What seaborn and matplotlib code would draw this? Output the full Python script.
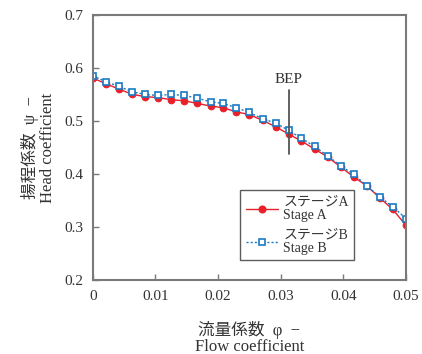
import matplotlib
matplotlib.use('Agg')
import matplotlib.pyplot as plt
from matplotlib.lines import Line2D
import pandas as pd
import seaborn as sns

# flow coefficient phi (measurement points)
phi = [0.0, 0.0021, 0.0042, 0.0063, 0.0083, 0.0104, 0.0125, 0.0146, 0.0167,
       0.0188, 0.0208, 0.0229, 0.0250, 0.0271, 0.0292, 0.0313, 0.0333, 0.0354,
       0.0375, 0.0396, 0.0417, 0.0438, 0.0458, 0.0479, 0.0500]

# head coefficient psi
psi_a = [0.581, 0.570, 0.560, 0.550, 0.546, 0.544, 0.540, 0.538, 0.533,
         0.528, 0.525, 0.517, 0.512, 0.501, 0.489, 0.475, 0.462, 0.447,
         0.432, 0.413, 0.394, 0.377, 0.355, 0.333, 0.303]
psi_b = [0.585, 0.574, 0.565, 0.555, 0.550, 0.548, 0.550, 0.548, 0.543,
         0.536, 0.533, 0.525, 0.516, 0.504, 0.496, 0.482, 0.467, 0.452,
         0.434, 0.415, 0.399, 0.377, 0.357, 0.338, 0.316]

bep_phi = 0.0313
bep_range = (0.438, 0.558)

RED = '#e8202a'
BLUE = '#1a7ac4'
GRAY = '#7a7a7a'
TXT = '#333333'

sns.set_theme(style='ticks')
plt.rcParams['font.family'] = ['Liberation Serif', 'Noto Sans CJK JP']

df = pd.DataFrame({'phi': phi, 'A': psi_a, 'B': psi_b})

fig = plt.figure(figsize=(4.22, 3.54), dpi=100)
ax = fig.add_axes([0.220, 0.209, 0.742, 0.749])

style_a = dict(color=RED, linewidth=1.0, marker='o', markersize=4.8,
               markeredgecolor=RED)
style_b = dict(color=BLUE, linewidth=1.0, linestyle=(0, (1.5, 1.5)),
               marker='s', markersize=4.6, markerfacecolor='white',
               markeredgecolor=BLUE, markeredgewidth=1.2)

sns.lineplot(data=df, x='phi', y='A', ax=ax, legend=False, **style_a)
sns.lineplot(data=df, x='phi', y='B', ax=ax, legend=False, **style_b)

# BEP marker
ax.plot([bep_phi, bep_phi], bep_range, color='#555555', linewidth=1.3)
ax.text(bep_phi, 0.578, 'BEP', ha='center', va='center', fontsize=11,
        color=TXT)

ax.set_xlim(0, 0.05)
ax.set_ylim(0.2, 0.7)
ax.set_xticks([0, 0.01, 0.02, 0.03, 0.04, 0.05])
ax.set_xticklabels(['0', '0.01', '0.02', '0.03', '0.04', '0.05'])
ax.set_yticks([0.2, 0.3, 0.4, 0.5, 0.6, 0.7])
ax.tick_params(direction='in', length=4, width=1.0, color=GRAY,
               labelsize=11, labelcolor=TXT, pad=7)
for sp in ax.spines.values():
    sp.set_color(GRAY)
    sp.set_linewidth(1.5)
    sp.set_visible(True)

ax.set_xlabel('流量係数  φ  −\nFlow coefficient', fontsize=12,
              color=TXT, linespacing=1.05, labelpad=13)
ax.set_ylabel('揚程係数  ψ  −\nHead coefficient', fontsize=12,
              color=TXT, linespacing=1.1, labelpad=6)

handles = [Line2D([], [], **style_a), Line2D([], [], **style_b)]
leg = ax.legend(handles, ['ステージA\nStage A', 'ステージB\nStage B'],
                loc='lower right', bbox_to_anchor=(0.835, 0.075),
                borderaxespad=0, fontsize=10, frameon=True, fancybox=False,
                handlelength=2.3, borderpad=0.4, labelspacing=0.5,
                handletextpad=0.4, numpoints=1)
leg.get_frame().set_edgecolor(TXT)
leg.get_frame().set_linewidth(1.0)
for t in leg.get_texts():
    t.set_color(TXT)
    t.set_linespacing(1.0)

fig.savefig('out.png', dpi=100)
